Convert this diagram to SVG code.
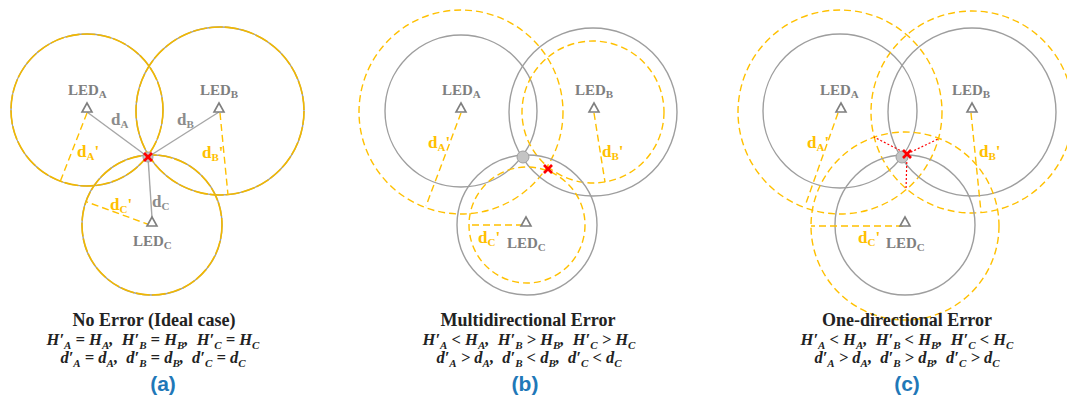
<svg xmlns="http://www.w3.org/2000/svg" width="1067" height="397" viewBox="0 0 1067 397">
<style>
.bg{fill:#fff}
.gc{fill:none;stroke:#9e9e9e;stroke-width:1.4}
.od{fill:none;stroke:#ffc000;stroke-width:1.4;stroke-dasharray:7 4}
.oa{fill:none;stroke:#f2b800;stroke-width:1.6;stroke-dasharray:14 2}
.gl{stroke:#a6a6a6;stroke-width:1.4}
.tri{fill:#fff;stroke:#7f7f7f;stroke-width:1.6}
.led{font-family:"Liberation Serif",serif;font-weight:bold;font-size:15px;fill:#7f7f7f}
.dl{font-family:"Liberation Serif",serif;font-weight:bold;font-size:17px;fill:#8c8c8c}
.dy{font-family:"Liberation Serif",serif;font-weight:bold;font-size:17px;fill:#ffc000}
.s{font-size:11px}
.rx{stroke:#ff0000;stroke-width:2.6}
.rd{stroke:#ff0000;stroke-width:1.2;stroke-dasharray:2 2}
.dot{fill:#c4c4c4;stroke:#a0a0a0;stroke-width:1}
.title{font-family:"Liberation Serif",serif;font-weight:bold;font-size:18px;fill:#222;text-anchor:middle}
.eq{font-family:"Liberation Serif",serif;font-weight:bold;font-style:italic;font-size:16.5px;fill:#222;text-anchor:middle}
.es{font-size:11px}
.cap{font-family:"Liberation Sans",Arial,sans-serif;font-weight:bold;font-size:21px;fill:#1f78b8;text-anchor:middle}
</style>
<rect class="bg" x="0" y="0" width="1067" height="397"/>

<!-- Panel (a) -->
<g id="panel-a">
  <g id="a-circles">
    <circle class="gc" cx="87" cy="110" r="76"/>
    <circle class="oa" cx="87" cy="110" r="76"/>
    <circle class="gc" cx="220" cy="111" r="84"/>
    <circle class="oa" cx="220" cy="111" r="84"/>
    <circle class="gc" cx="152" cy="225" r="70"/>
    <circle class="oa" cx="152" cy="225" r="70"/>
  </g>
  <g id="a-connectors">
    <line class="gl" x1="87" y1="112" x2="148" y2="157"/>
    <line class="gl" x1="219" y1="112" x2="148" y2="157"/>
    <line class="gl" x1="152" y1="218" x2="148" y2="157"/>
    <line class="od" x1="87" y1="113" x2="60" y2="182"/>
    <line class="od" x1="220" y1="113" x2="228" y2="195"/>
    <line class="od" x1="150" y1="225" x2="87" y2="202"/>
  </g>
  <g id="a-ledA"><polygon class="tri" points="87,103 82,112 92,112"/><text class="led" x="68" y="95">LED<tspan class="s" dy="3">A</tspan></text></g>
  <g id="a-ledB"><polygon class="tri" points="219,103 214,112 224,112"/><text class="led" x="200" y="95">LED<tspan class="s" dy="3">B</tspan></text></g>
  <g id="a-ledC"><polygon class="tri" points="152,217 147,226 157,226"/><text class="led" x="133" y="246">LED<tspan class="s" dy="3">C</tspan></text></g>
  <text class="dl" x="111" y="125">d<tspan class="s" dy="3">A</tspan></text>
  <text class="dl" x="177" y="125">d<tspan class="s" dy="3">B</tspan></text>
  <text class="dl" x="152" y="207">d<tspan class="s" dy="3">C</tspan></text>
  <text class="dy" x="77" y="157">d<tspan class="s" dy="3">A</tspan><tspan dy="-3">'</tspan></text>
  <text class="dy" x="202" y="158">d<tspan class="s" dy="3">B</tspan><tspan dy="-3">'</tspan></text>
  <text class="dy" x="110" y="210">d<tspan class="s" dy="3">C</tspan><tspan dy="-3">'</tspan></text>
  <g id="a-point">
    <circle class="dot" cx="148" cy="157" r="5"/>
    <line class="rx" x1="144" y1="153" x2="152" y2="161"/>
    <line class="rx" x1="152" y1="153" x2="144" y2="161"/>
  </g>
  <text class="title" x="154" y="326">No Error (Ideal case)</text>
  <text class="eq" x="153" y="345" xml:space="preserve">H′<tspan class="es" dy="4">A</tspan><tspan dy="-4"> = H</tspan><tspan class="es" dy="4">A</tspan><tspan dy="-4">,  H′</tspan><tspan class="es" dy="4">B</tspan><tspan dy="-4"> = H</tspan><tspan class="es" dy="4">B</tspan><tspan dy="-4">,  H′</tspan><tspan class="es" dy="4">C</tspan><tspan dy="-4"> = H</tspan><tspan class="es" dy="4">C</tspan></text>
  <text class="eq" x="153" y="363" xml:space="preserve">d′<tspan class="es" dy="4">A</tspan><tspan dy="-4"> = d</tspan><tspan class="es" dy="4">A</tspan><tspan dy="-4">,  d′</tspan><tspan class="es" dy="4">B</tspan><tspan dy="-4"> = d</tspan><tspan class="es" dy="4">B</tspan><tspan dy="-4">,  d′</tspan><tspan class="es" dy="4">C</tspan><tspan dy="-4"> = d</tspan><tspan class="es" dy="4">C</tspan></text>
  <text class="cap" x="163" y="391">(a)</text>
</g>

<!-- Panel (b) -->
<g id="panel-b">
  <g id="b-circles">
    <circle class="gc" cx="461" cy="111" r="76"/>
    <circle class="od" cx="461" cy="112" r="102"/>
    <circle class="gc" cx="593" cy="112" r="84"/>
    <circle class="od" cx="593" cy="112" r="71"/>
    <circle class="gc" cx="527" cy="225" r="70"/>
    <circle class="od" cx="527" cy="225" r="58"/>
  </g>
  <g id="b-connectors">
    <line class="od" x1="461" y1="113" x2="426" y2="206"/>
    <line class="od" x1="594" y1="113" x2="605" y2="182"/>
    <line class="od" x1="523" y1="225" x2="469" y2="225"/>
  </g>
  <g id="b-ledA"><polygon class="tri" points="461,103 456,112 466,112"/><text class="led" x="442" y="95">LED<tspan class="s" dy="3">A</tspan></text></g>
  <g id="b-ledB"><polygon class="tri" points="594,103 589,112 599,112"/><text class="led" x="575" y="95">LED<tspan class="s" dy="3">B</tspan></text></g>
  <g id="b-ledC"><polygon class="tri" points="526,217 521,226 531,226"/><text class="led" x="507" y="248">LED<tspan class="s" dy="3">C</tspan></text></g>
  <text class="dy" x="428" y="148">d<tspan class="s" dy="3">A</tspan><tspan dy="-3">'</tspan></text>
  <text class="dy" x="602" y="157">d<tspan class="s" dy="3">B</tspan><tspan dy="-3">'</tspan></text>
  <text class="dy" x="478" y="243">d<tspan class="s" dy="3">C</tspan><tspan dy="-3">'</tspan></text>
  <circle class="dot" cx="523" cy="157" r="6"/>
  <g id="b-point">
    <line class="rx" x1="544" y1="165" x2="552" y2="173"/>
    <line class="rx" x1="552" y1="165" x2="544" y2="173"/>
  </g>
  <text class="title" x="528" y="326">Multidirectional Error</text>
  <text class="eq" x="529" y="345" xml:space="preserve">H′<tspan class="es" dy="4">A</tspan><tspan dy="-4"> &lt; H</tspan><tspan class="es" dy="4">A</tspan><tspan dy="-4">,  H′</tspan><tspan class="es" dy="4">B</tspan><tspan dy="-4"> &gt; H</tspan><tspan class="es" dy="4">B</tspan><tspan dy="-4">,  H′</tspan><tspan class="es" dy="4">C</tspan><tspan dy="-4"> &gt; H</tspan><tspan class="es" dy="4">C</tspan></text>
  <text class="eq" x="529" y="363" xml:space="preserve">d′<tspan class="es" dy="4">A</tspan><tspan dy="-4"> &gt; d</tspan><tspan class="es" dy="4">A</tspan><tspan dy="-4">,  d′</tspan><tspan class="es" dy="4">B</tspan><tspan dy="-4"> &lt; d</tspan><tspan class="es" dy="4">B</tspan><tspan dy="-4">,  d′</tspan><tspan class="es" dy="4">C</tspan><tspan dy="-4"> &lt; d</tspan><tspan class="es" dy="4">C</tspan></text>
  <text class="cap" x="525" y="391">(b)</text>
</g>

<!-- Panel (c) -->
<g id="panel-c">
  <g id="c-circles">
    <circle class="gc" cx="840" cy="111" r="77"/>
    <circle class="od" cx="840" cy="112" r="102"/>
    <circle class="gc" cx="972" cy="112" r="84"/>
    <circle class="od" cx="972" cy="112" r="101"/>
    <circle class="gc" cx="905" cy="225" r="70"/>
    <circle class="od" cx="905" cy="226" r="94"/>
  </g>
  <g id="c-connectors">
    <line class="od" x1="838" y1="113" x2="805" y2="206"/>
    <line class="od" x1="971" y1="113" x2="981" y2="212"/>
    <line class="od" x1="903" y1="226" x2="811" y2="226"/>
    <line class="rd" x1="907" y1="154" x2="874" y2="137"/>
    <line class="rd" x1="907" y1="154" x2="938" y2="139"/>
    <line class="rd" x1="907" y1="154" x2="906" y2="190"/>
  </g>
  <g id="c-ledA"><polygon class="tri" points="841,103 836,112 846,112"/><text class="led" x="820" y="95">LED<tspan class="s" dy="3">A</tspan></text></g>
  <g id="c-ledB"><polygon class="tri" points="972,103 967,112 977,112"/><text class="led" x="952" y="95">LED<tspan class="s" dy="3">B</tspan></text></g>
  <g id="c-ledC"><polygon class="tri" points="905,217 900,226 910,226"/><text class="led" x="886" y="248">LED<tspan class="s" dy="3">C</tspan></text></g>
  <text class="dy" x="807" y="148">d<tspan class="s" dy="3">A</tspan><tspan dy="-3">'</tspan></text>
  <text class="dy" x="979" y="157">d<tspan class="s" dy="3">B</tspan><tspan dy="-3">'</tspan></text>
  <text class="dy" x="858" y="243">d<tspan class="s" dy="3">C</tspan><tspan dy="-3">'</tspan></text>
  <circle class="dot" cx="902" cy="157" r="6"/>
  <g id="c-point">
    <line class="rx" x1="903" y1="150" x2="911" y2="158"/>
    <line class="rx" x1="911" y1="150" x2="903" y2="158"/>
  </g>
  <text class="title" x="907" y="326">One-directional Error</text>
  <text class="eq" x="907" y="345" xml:space="preserve">H′<tspan class="es" dy="4">A</tspan><tspan dy="-4"> &lt; H</tspan><tspan class="es" dy="4">A</tspan><tspan dy="-4">,  H′</tspan><tspan class="es" dy="4">B</tspan><tspan dy="-4"> &lt; H</tspan><tspan class="es" dy="4">B</tspan><tspan dy="-4">,  H′</tspan><tspan class="es" dy="4">C</tspan><tspan dy="-4"> &lt; H</tspan><tspan class="es" dy="4">C</tspan></text>
  <text class="eq" x="907" y="363" xml:space="preserve">d′<tspan class="es" dy="4">A</tspan><tspan dy="-4"> &gt; d</tspan><tspan class="es" dy="4">A</tspan><tspan dy="-4">,  d′</tspan><tspan class="es" dy="4">B</tspan><tspan dy="-4"> &gt; d</tspan><tspan class="es" dy="4">B</tspan><tspan dy="-4">,  d′</tspan><tspan class="es" dy="4">C</tspan><tspan dy="-4"> &gt; d</tspan><tspan class="es" dy="4">C</tspan></text>
  <text class="cap" x="907" y="391">(c)</text>
</g>
</svg>
